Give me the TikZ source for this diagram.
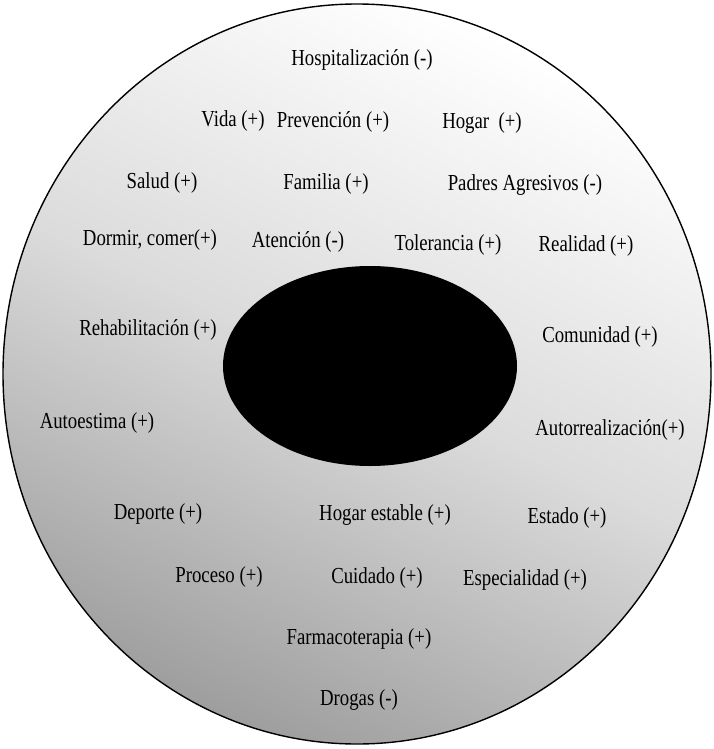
\documentclass[tikz,border=0pt]{standalone}
\usepackage{fontspec}
\setmainfont{Liberation Serif}
\newfontfamily\condfont[FakeStretch=0.82]{Liberation Serif}
\begin{document}
\begin{tikzpicture}[x=1bp,y=-1bp,
  lbl/.style={font=\condfont\fontsize{23}{25}\selectfont, inner sep=0pt, text=black},
  outerring/.style={draw=black, line width=1.4bp, shading=axis, top color=white, bottom color=black!38, middle color=black!14, shading angle=-25},
  core/.style={fill=black, draw=none}]
\useasboundingbox (0,0) rectangle (714,749);
\fill[white] (0,0) rectangle (714,749);
\path[outerring] (357,374) ellipse [x radius=354, y radius=370];
\path[core] (370,366) ellipse [x radius=147, y radius=100];
\node[lbl] (hosp) at (362,60) {Hospitalización (-)};
\node[lbl] (vida) at (233,121) {Vida (+)};
\node[lbl] (prev) at (333,122) {Prevención (+)};
\node[lbl] (hogar) at (482,123) {Hogar~~(+)};
\node[lbl] (salud) at (162,183) {Salud (+)};
\node[lbl] (fam) at (326,184) {Familia (+)};
\node[lbl] (padres) at (525,185) {Padres Agresivos (-)};
\node[lbl] (dormir) at (150,240) {Dormir, comer(+)};
\node[lbl] (aten) at (298,242) {Atención (-)};
\node[lbl] (tol) at (448,245) {Tolerancia (+)};
\node[lbl] (real) at (586,246) {Realidad (+)};
\node[lbl] (rehab) at (148,330) {Rehabilitación (+)};
\node[lbl] (comu) at (600,337) {Comunidad (+)};
\node[lbl] (autoe) at (97,423) {Autoestima (+)};
\node[lbl] (autor) at (610,430) {Autorrealización(+)};
\node[lbl] (dep) at (158,514) {Deporte (+)};
\node[lbl] (hest) at (385,515) {Hogar estable (+)};
\node[lbl] (est) at (567,518) {Estado (+)};
\node[lbl] (proc) at (219,577) {Proceso (+)};
\node[lbl] (cuid) at (377,578) {Cuidado (+)};
\node[lbl] (esp) at (525,580) {Especialidad (+)};
\node[lbl] (farm) at (359,639) {Farmacoterapia (+)};
\node[lbl] (drog) at (359,700) {Drogas (-)};
\end{tikzpicture}
\end{document}
